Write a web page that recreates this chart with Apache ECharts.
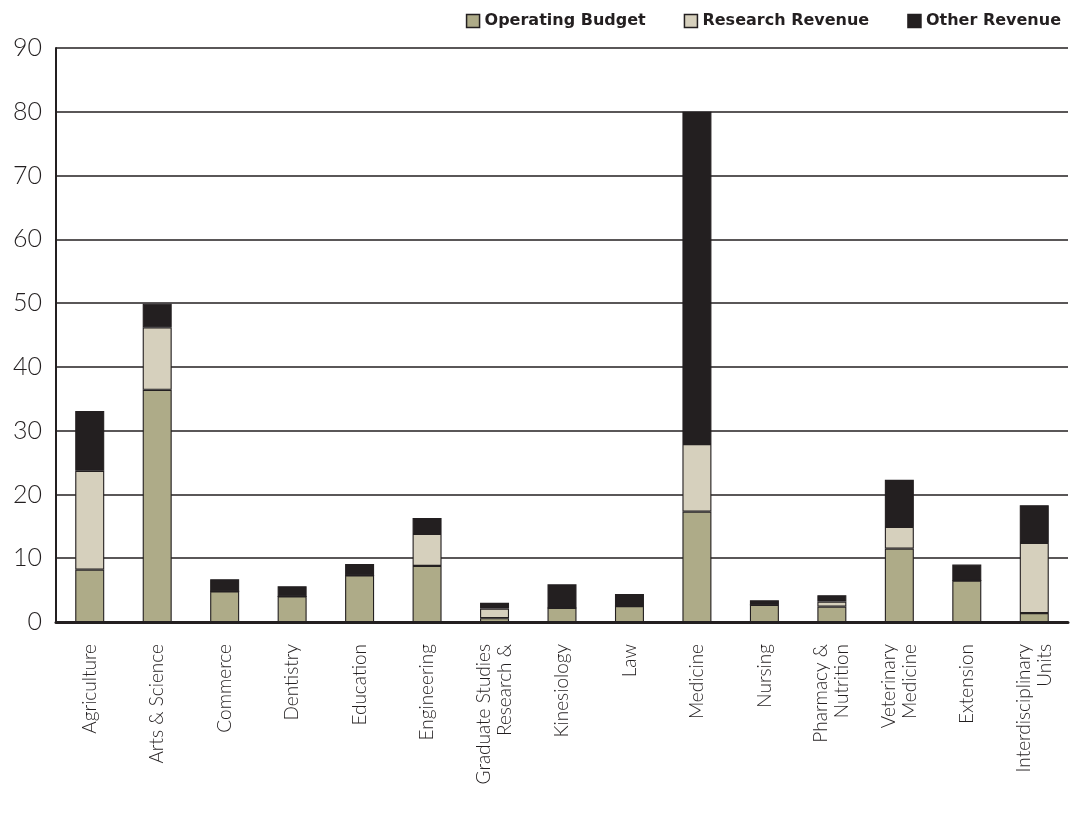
<!DOCTYPE html>
<html>
<head>
<meta charset="utf-8">
<script src="https://cdn.jsdelivr.net/npm/echarts@6/dist/echarts.min.js"></script>
<style>
  html, body { margin: 0; padding: 0; background: #ffffff; }
  #chart { width: 1070px; height: 826px; }
</style>
</head>
<body>
<div id="chart"></div>
<script>
// Faculty / unit names (line breaks as printed under the axis)
const categories = [
  'Agriculture', 'Arts & Science', 'Commerce', 'Dentistry', 'Education',
  'Engineering', 'Graduate Studies\nResearch &', 'Kinesiology', 'Law', 'Medicine',
  'Nursing', 'Pharmacy &\nNutrition', 'Veterinary\nMedicine', 'Extension',
  'Interdisciplinary\nUnits'
];

// Revenue by source (millions)
const operatingBudget = [8.2, 36.4, 4.8, 4.0, 7.3, 8.8, 0.6, 2.2, 2.5, 17.3, 2.7, 2.4, 11.5, 6.5, 1.4];
const researchRevenue = [15.5, 9.8, 0, 0, 0, 5.0, 1.5, 0, 0, 10.6, 0, 0.8, 3.4, 0, 11.0];
const otherRevenue    = [9.4, 3.7, 1.9, 1.6, 1.8, 2.5, 0.9, 3.7, 1.9, 52.1, 0.7, 1.0, 7.4, 2.5, 5.9];

const yTicks = { min: 0, max: 90, interval: 10 };

const ink = '#231f20';
const colors = { op: '#aeab88', research: '#d6d0bd', other: '#231f20' };

const chart = echarts.init(document.getElementById('chart'), null, { renderer: 'canvas' });

function barSeries(name, data, color) {
  return {
    name: name,
    type: 'bar',
    stack: 'revenue',
    data: data,
    barWidth: 29,
    itemStyle: { color: color, borderColor: ink, borderWidth: 1.1 },
    emphasis: { disabled: true }
  };
}

chart.setOption({
  animation: false,
  backgroundColor: '#ffffff',
  legend: {
    top: 8,
    right: 4,
    itemWidth: 13,
    itemHeight: 13,
    itemGap: 38,
    icon: 'rect',
    textStyle: {
      fontFamily: 'DejaVu Sans, sans-serif',
      fontWeight: 'bold',
      fontSize: 16,
      color: ink
    },
    itemStyle: { borderColor: ink, borderWidth: 1.5 },
    data: ['Operating Budget', 'Research Revenue', 'Other Revenue']
  },
  grid: { left: 56, right: 2, top: 48, bottom: 204, containLabel: false },
  xAxis: {
    type: 'category',
    data: categories,
    axisTick: { show: false },
    axisLine: { show: true, lineStyle: { color: ink, width: 3 } },
    axisLabel: {
      rotate: 90,
      interval: 0,
      margin: 22,
      fontFamily: 'Lato, Open Sans, sans-serif',
      fontWeight: 300,
      fontSize: 19,
      lineHeight: 21,
      color: ink
    }
  },
  yAxis: {
    type: 'value',
    min: yTicks.min,
    max: yTicks.max,
    interval: yTicks.interval,
    axisLine: { show: true, lineStyle: { color: ink, width: 2 } },
    axisTick: { show: false },
    splitLine: { show: true, lineStyle: { color: ink, width: 1.6 } },
    axisLabel: {
      margin: 14,
      fontFamily: 'Lato, Open Sans, sans-serif',
      fontWeight: 300,
      fontSize: 25,
      color: ink
    }
  },
  series: [
    barSeries('Operating Budget', operatingBudget, colors.op),
    barSeries('Research Revenue', researchRevenue, colors.research),
    barSeries('Other Revenue', otherRevenue, colors.other)
  ]
});
</script>
</body>
</html>
